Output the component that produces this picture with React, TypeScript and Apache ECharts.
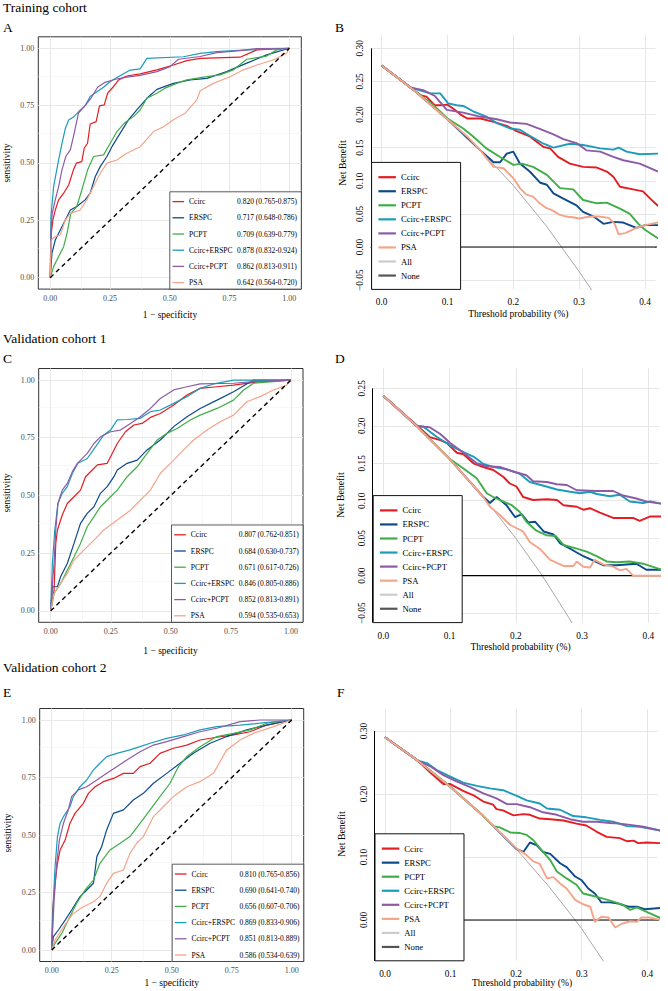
import React, { useEffect, useRef } from 'react';
import * as echarts from 'echarts';

const FONT = "'Liberation Serif', 'Times New Roman', Times, serif";

const MODELS = ['Ccirc', 'ERSPC', 'PCPT', 'Ccirc+ERSPC', 'Ccirc+PCPT', 'PSA'];
const COLORS = ['#E31D22', '#0C4A8C', '#3FAE48', '#1B9CBA', '#8D5BA6', '#F5A489'];

// ---------- ROC data (1 - specificity, sensitivity) ----------
const diagonal = [[0, 0], [1, 1]];
const rocTicks = [0, 0.25, 0.5, 0.75, 1];
const rocMinor = [0.125, 0.375, 0.625, 0.875];

const rocA_Ccirc = [[0,0],[0.004,0.193],[0.011,0.251],[0.021,0.295],[0.035,0.339],[0.056,0.368],[0.077,0.404],[0.097,0.47],[0.109,0.499],[0.132,0.506],[0.142,0.564],[0.156,0.586],[0.167,0.67],[0.192,0.68],[0.206,0.749],[0.226,0.753],[0.24,0.804],[0.262,0.83],[0.286,0.862],[0.32,0.879],[0.376,0.888],[0.446,0.906],[0.515,0.927],[0.571,0.946],[0.627,0.956],[0.794,0.961],[0.864,0.993],[1,1]];
const rocA_ERSPC = [[0,0],[0.007,0.106],[0.021,0.164],[0.042,0.208],[0.063,0.251],[0.084,0.295],[0.111,0.31],[0.146,0.339],[0.167,0.368],[0.188,0.44],[0.209,0.484],[0.237,0.528],[0.258,0.571],[0.292,0.629],[0.327,0.688],[0.362,0.731],[0.404,0.782],[0.446,0.821],[0.515,0.847],[0.585,0.862],[0.655,0.869],[0.738,0.898],[0.822,0.935],[0.905,0.971],[1,1]];
const rocA_PCPT = [[0,0],[0.014,0.048],[0.035,0.092],[0.056,0.135],[0.07,0.193],[0.086,0.28],[0.111,0.31],[0.132,0.382],[0.156,0.469],[0.181,0.528],[0.223,0.535],[0.251,0.586],[0.279,0.637],[0.309,0.673],[0.348,0.702],[0.376,0.731],[0.404,0.782],[0.446,0.804],[0.48,0.826],[0.529,0.847],[0.571,0.862],[0.655,0.876],[0.71,0.884],[0.766,0.906],[0.822,0.952],[0.905,0.966],[0.947,0.993],[1,1]];
const rocA_CcircERSPC = [[0,0],[0.003,0.266],[0.014,0.397],[0.035,0.513],[0.049,0.585],[0.063,0.65],[0.077,0.687],[0.097,0.7],[0.125,0.73],[0.146,0.75],[0.167,0.79],[0.195,0.81],[0.223,0.83],[0.251,0.855],[0.292,0.88],[0.334,0.905],[0.376,0.91],[0.404,0.956],[0.557,0.963],[0.627,0.978],[0.696,0.985],[0.766,0.99],[1,1]];
const rocA_CcircPCPT = [[0,0],[0.003,0.193],[0.008,0.28],[0.021,0.339],[0.035,0.397],[0.049,0.47],[0.065,0.528],[0.084,0.557],[0.1,0.629],[0.118,0.717],[0.142,0.746],[0.17,0.782],[0.198,0.83],[0.226,0.85],[0.272,0.865],[0.32,0.874],[0.376,0.882],[0.446,0.898],[0.501,0.92],[0.536,0.952],[0.627,0.964],[0.696,0.981],[0.794,0.99],[0.864,0.999],[1,1]];
const rocA_PSA = [[0,0],[0.004,0.164],[0.021,0.179],[0.042,0.186],[0.063,0.251],[0.084,0.28],[0.125,0.295],[0.153,0.339],[0.181,0.397],[0.209,0.455],[0.237,0.499],[0.279,0.513],[0.32,0.542],[0.376,0.571],[0.432,0.637],[0.474,0.658],[0.515,0.688],[0.564,0.717],[0.613,0.775],[0.627,0.815],[0.682,0.847],[0.752,0.876],[0.808,0.906],[0.864,0.927],[0.933,0.949],[0.989,0.978],[1,1]];

const rocC_Ccirc = [[0,0],[0.014,0.09],[0.021,0.292],[0.028,0.35],[0.048,0.415],[0.069,0.465],[0.097,0.494],[0.124,0.523],[0.145,0.581],[0.173,0.61],[0.194,0.632],[0.235,0.639],[0.256,0.682],[0.277,0.725],[0.311,0.776],[0.346,0.805],[0.38,0.812],[0.415,0.838],[0.456,0.855],[0.512,0.892],[0.567,0.935],[0.622,0.964],[0.692,0.971],[0.761,0.978],[0.871,0.993],[1,1]];
const rocC_ERSPC = [[0,0],[0.007,0.104],[0.028,0.104],[0.041,0.147],[0.069,0.205],[0.097,0.292],[0.124,0.379],[0.152,0.422],[0.18,0.451],[0.207,0.509],[0.235,0.538],[0.263,0.581],[0.277,0.61],[0.318,0.639],[0.36,0.653],[0.401,0.697],[0.456,0.74],[0.512,0.798],[0.567,0.841],[0.622,0.877],[0.692,0.913],[0.761,0.949],[0.844,1],[1,1]];
const rocC_PCPT = [[0,0],[0.014,0.075],[0.041,0.118],[0.069,0.176],[0.097,0.234],[0.124,0.292],[0.152,0.364],[0.18,0.408],[0.207,0.451],[0.249,0.494],[0.277,0.523],[0.318,0.581],[0.36,0.624],[0.401,0.682],[0.443,0.74],[0.484,0.769],[0.526,0.79],[0.581,0.827],[0.622,0.848],[0.692,0.877],[0.761,0.913],[0.803,0.957],[0.844,0.986],[0.927,0.993],[1,1]];
const rocC_CcircERSPC = [[0,0],[0.007,0.205],[0.017,0.35],[0.03,0.465],[0.048,0.509],[0.069,0.538],[0.09,0.595],[0.113,0.639],[0.152,0.66],[0.187,0.711],[0.221,0.762],[0.249,0.783],[0.277,0.827],[0.318,0.829],[0.373,0.834],[0.415,0.863],[0.456,0.87],[0.512,0.899],[0.567,0.928],[0.622,0.964],[0.678,0.983],[0.761,1],[1,1]];
const rocC_CcircPCPT = [[0,0],[0.007,0.118],[0.014,0.205],[0.021,0.35],[0.03,0.465],[0.048,0.523],[0.069,0.552],[0.09,0.603],[0.111,0.639],[0.152,0.682],[0.18,0.725],[0.207,0.754],[0.249,0.776],[0.29,0.783],[0.332,0.812],[0.373,0.841],[0.415,0.877],[0.456,0.92],[0.512,0.957],[0.567,0.971],[0.622,0.983],[0.761,0.986],[0.844,0.993],[1,1]];
const rocC_PSA = [[0,0],[0.014,0.075],[0.041,0.118],[0.069,0.162],[0.097,0.22],[0.138,0.263],[0.18,0.306],[0.221,0.35],[0.277,0.393],[0.332,0.436],[0.373,0.48],[0.415,0.523],[0.456,0.595],[0.512,0.653],[0.553,0.697],[0.595,0.74],[0.65,0.783],[0.705,0.819],[0.761,0.848],[0.816,0.906],[0.871,0.928],[0.927,0.957],[0.982,0.978],[1,1]];

const rocE_Ccirc = [[0,0],[0.004,0.174],[0.014,0.29],[0.024,0.377],[0.035,0.435],[0.056,0.478],[0.076,0.551],[0.097,0.594],[0.132,0.638],[0.153,0.681],[0.181,0.71],[0.215,0.732],[0.257,0.746],[0.299,0.768],[0.34,0.768],[0.368,0.797],[0.41,0.812],[0.451,0.855],[0.507,0.877],[0.563,0.891],[0.618,0.913],[0.688,0.925],[0.757,0.935],[0.826,0.949],[0.896,0.978],[1,1]];
const rocE_ERSPC = [[0,0],[0.007,0.058],[0.028,0.087],[0.056,0.13],[0.083,0.174],[0.118,0.232],[0.146,0.261],[0.174,0.29],[0.188,0.406],[0.208,0.449],[0.229,0.522],[0.257,0.594],[0.299,0.609],[0.34,0.652],[0.382,0.681],[0.424,0.725],[0.479,0.768],[0.535,0.812],[0.59,0.855],[0.66,0.899],[0.729,0.928],[0.813,0.957],[0.896,0.978],[1,1]];
const rocE_PCPT = [[0,0],[0.014,0.029],[0.042,0.072],[0.069,0.13],[0.104,0.203],[0.139,0.261],[0.174,0.304],[0.201,0.377],[0.243,0.435],[0.285,0.464],[0.326,0.493],[0.368,0.551],[0.41,0.609],[0.451,0.667],[0.493,0.725],[0.528,0.797],[0.563,0.841],[0.618,0.884],[0.688,0.928],[0.757,0.942],[0.826,0.957],[0.896,0.986],[1,1]];
const rocE_CcircERSPC = [[0,0],[0.007,0.217],[0.014,0.362],[0.024,0.493],[0.035,0.551],[0.049,0.58],[0.076,0.623],[0.09,0.667],[0.118,0.71],[0.146,0.739],[0.174,0.783],[0.201,0.812],[0.229,0.841],[0.271,0.855],[0.326,0.87],[0.368,0.884],[0.41,0.899],[0.479,0.92],[0.549,0.935],[0.618,0.957],[0.688,0.971],[0.785,0.978],[0.868,0.986],[1,1]];
const rocE_CcircPCPT = [[0,0],[0.01,0.217],[0.021,0.377],[0.032,0.478],[0.049,0.551],[0.069,0.609],[0.083,0.667],[0.111,0.696],[0.146,0.71],[0.188,0.739],[0.229,0.768],[0.271,0.797],[0.313,0.826],[0.368,0.862],[0.424,0.891],[0.479,0.906],[0.549,0.928],[0.618,0.949],[0.688,0.964],[0.785,0.993],[0.868,1],[1,1]];
const rocE_PSA = [[0,0],[0.014,0.043],[0.049,0.101],[0.09,0.159],[0.132,0.188],[0.174,0.21],[0.201,0.232],[0.229,0.29],[0.257,0.333],[0.299,0.348],[0.326,0.42],[0.354,0.464],[0.382,0.493],[0.424,0.58],[0.465,0.623],[0.507,0.667],[0.563,0.71],[0.618,0.732],[0.674,0.768],[0.729,0.87],[0.785,0.913],[0.84,0.942],[0.924,0.971],[1,1]];

const aucA = ['0.820 (0.765-0.875)', '0.717 (0.648-0.786)', '0.709 (0.639-0.779)', '0.878 (0.832-0.924)', '0.862 (0.813-0.911)', '0.642 (0.564-0.720)'];
const aucC = ['0.807 (0.762-0.851)', '0.684 (0.630-0.737)', '0.671 (0.617-0.726)', '0.846 (0.805-0.886)', '0.852 (0.813-0.891)', '0.594 (0.535-0.653)'];
const aucE = ['0.810 (0.765-0.856)', '0.690 (0.641-0.740)', '0.656 (0.607-0.706)', '0.869 (0.833-0.906)', '0.851 (0.813-0.889)', '0.586 (0.534-0.639)'];

// ---------- Decision curve data (threshold, net benefit) ----------
const dcaXTicks = [0, 0.1, 0.2, 0.3, 0.4];
const dcaYTicksB = [-0.05, 0, 0.05, 0.1, 0.15, 0.2, 0.25, 0.3];
const dcaYTicksD = [-0.05, 0, 0.05, 0.1, 0.15, 0.2, 0.25];
const dcaYTicksF = [0, 0.1, 0.2, 0.3];
const noneLine = [[0, 0], [0.42, 0]];

const dcaB_All = [[0,0.274],[0.05,0.236],[0.1,0.193],[0.15,0.146],[0.2,0.093],[0.25,0.032],[0.3,-0.037],[0.33,-0.081]];
const dcaB_Ccirc = [[0,0.274],[0.04,0.244],[0.05,0.236],[0.06,0.229],[0.068,0.227],[0.081,0.214],[0.09,0.214],[0.1,0.215],[0.11,0.208],[0.12,0.2],[0.13,0.194],[0.15,0.194],[0.17,0.189],[0.19,0.183],[0.205,0.175],[0.225,0.167],[0.246,0.151],[0.256,0.149],[0.268,0.136],[0.286,0.126],[0.306,0.121],[0.327,0.12],[0.342,0.114],[0.352,0.106],[0.362,0.091],[0.382,0.087],[0.397,0.084],[0.408,0.073],[0.42,0.062]];
const dcaB_ERSPC = [[0,0.274],[0.05,0.236],[0.1,0.193],[0.15,0.146],[0.17,0.128],[0.18,0.128],[0.19,0.141],[0.2,0.144],[0.21,0.126],[0.225,0.114],[0.241,0.097],[0.251,0.094],[0.261,0.081],[0.276,0.073],[0.296,0.063],[0.306,0.053],[0.322,0.046],[0.337,0.035],[0.352,0.038],[0.367,0.037],[0.387,0.029],[0.4,0.033],[0.42,0.033]];
const dcaB_PCPT = [[0,0.274],[0.05,0.236],[0.078,0.215],[0.1,0.194],[0.124,0.179],[0.139,0.167],[0.159,0.149],[0.18,0.136],[0.2,0.124],[0.213,0.126],[0.23,0.121],[0.251,0.109],[0.271,0.089],[0.291,0.087],[0.306,0.071],[0.327,0.066],[0.342,0.067],[0.362,0.058],[0.377,0.05],[0.39,0.035],[0.4,0.026],[0.42,0.013]];
const dcaB_CcircERSPC = [[0,0.274],[0.04,0.244],[0.043,0.241],[0.063,0.235],[0.075,0.232],[0.089,0.232],[0.101,0.217],[0.114,0.214],[0.124,0.213],[0.139,0.205],[0.159,0.197],[0.175,0.187],[0.195,0.179],[0.21,0.177],[0.225,0.168],[0.246,0.156],[0.261,0.15],[0.286,0.156],[0.306,0.154],[0.332,0.149],[0.352,0.147],[0.36,0.15],[0.372,0.144],[0.392,0.14],[0.42,0.141]];
const dcaB_CcircPCPT = [[0,0.274],[0.04,0.244],[0.043,0.241],[0.063,0.237],[0.081,0.228],[0.099,0.207],[0.124,0.203],[0.149,0.197],[0.175,0.193],[0.195,0.188],[0.22,0.186],[0.241,0.178],[0.261,0.17],[0.276,0.163],[0.296,0.157],[0.311,0.146],[0.332,0.144],[0.352,0.136],[0.367,0.131],[0.392,0.126],[0.42,0.114]];
const dcaB_PSA = [[0,0.274],[0.05,0.236],[0.1,0.193],[0.13,0.167],[0.15,0.146],[0.17,0.121],[0.185,0.119],[0.2,0.104],[0.21,0.089],[0.22,0.079],[0.23,0.076],[0.24,0.066],[0.25,0.059],[0.26,0.055],[0.27,0.049],[0.28,0.046],[0.29,0.045],[0.3,0.043],[0.31,0.045],[0.32,0.046],[0.33,0.046],[0.345,0.044],[0.354,0.035],[0.36,0.019],[0.37,0.021],[0.387,0.029],[0.4,0.033],[0.42,0.037]];

const dcaD_All = [[0,0.24],[0.05,0.2],[0.1,0.156],[0.15,0.106],[0.2,0.05],[0.24,0],[0.28,-0.056],[0.295,-0.078]];
const dcaD_Ccirc = [[0,0.24],[0.05,0.201],[0.07,0.185],[0.086,0.181],[0.096,0.177],[0.111,0.164],[0.121,0.162],[0.136,0.15],[0.151,0.145],[0.166,0.141],[0.181,0.132],[0.191,0.123],[0.201,0.119],[0.211,0.105],[0.226,0.101],[0.247,0.102],[0.262,0.101],[0.272,0.094],[0.292,0.092],[0.302,0.088],[0.312,0.09],[0.327,0.084],[0.347,0.077],[0.362,0.077],[0.377,0.077],[0.387,0.073],[0.403,0.079],[0.42,0.079]];
const dcaD_ERSPC = [[0,0.24],[0.05,0.2],[0.1,0.156],[0.15,0.106],[0.161,0.097],[0.171,0.105],[0.186,0.094],[0.199,0.078],[0.209,0.082],[0.219,0.071],[0.229,0.072],[0.242,0.059],[0.257,0.055],[0.267,0.043],[0.282,0.036],[0.302,0.026],[0.317,0.02],[0.332,0.014],[0.352,0.014],[0.367,0.015],[0.382,0.016],[0.397,0.008],[0.42,0.008]];
const dcaD_PCPT = [[0,0.24],[0.05,0.2],[0.1,0.156],[0.121,0.143],[0.141,0.13],[0.156,0.11],[0.166,0.105],[0.181,0.099],[0.194,0.094],[0.206,0.085],[0.216,0.072],[0.231,0.06],[0.246,0.054],[0.26,0.053],[0.272,0.041],[0.292,0.036],[0.307,0.032],[0.322,0.026],[0.337,0.019],[0.352,0.018],[0.372,0.019],[0.392,0.016],[0.42,0.008]];
const dcaD_CcircERSPC = [[0,0.24],[0.05,0.2],[0.06,0.199],[0.081,0.185],[0.101,0.174],[0.121,0.165],[0.136,0.159],[0.151,0.149],[0.166,0.145],[0.186,0.142],[0.206,0.136],[0.221,0.125],[0.242,0.12],[0.262,0.115],[0.282,0.112],[0.297,0.11],[0.312,0.112],[0.322,0.109],[0.342,0.106],[0.357,0.108],[0.372,0.099],[0.392,0.097],[0.403,0.099],[0.42,0.096]];
const dcaD_CcircPCPT = [[0,0.24],[0.05,0.2],[0.055,0.199],[0.07,0.198],[0.086,0.189],[0.101,0.177],[0.121,0.164],[0.141,0.15],[0.156,0.146],[0.176,0.145],[0.196,0.139],[0.216,0.134],[0.226,0.126],[0.247,0.125],[0.262,0.122],[0.277,0.121],[0.292,0.114],[0.322,0.113],[0.347,0.113],[0.362,0.107],[0.382,0.103],[0.397,0.099],[0.42,0.096]];
const dcaD_PSA = [[0,0.24],[0.05,0.2],[0.1,0.156],[0.15,0.106],[0.161,0.092],[0.176,0.081],[0.191,0.068],[0.211,0.059],[0.221,0.045],[0.236,0.036],[0.252,0.021],[0.272,0.013],[0.287,0.013],[0.292,0.019],[0.302,0.012],[0.312,0.011],[0.319,0.021],[0.332,0.015],[0.347,0.012],[0.357,0.007],[0.367,0.009],[0.377,0],[0.42,0]];

const dcaF_All = [[0,0.29],[0.05,0.253],[0.1,0.211],[0.15,0.165],[0.2,0.113],[0.25,0.053],[0.29,0],[0.3,-0.014],[0.34,-0.076]];
const dcaF_Ccirc = [[0,0.29],[0.05,0.253],[0.069,0.234],[0.089,0.216],[0.099,0.216],[0.119,0.205],[0.135,0.198],[0.15,0.188],[0.165,0.183],[0.17,0.176],[0.18,0.174],[0.196,0.166],[0.211,0.168],[0.221,0.167],[0.236,0.161],[0.252,0.16],[0.272,0.158],[0.292,0.153],[0.307,0.15],[0.323,0.14],[0.338,0.132],[0.358,0.13],[0.369,0.125],[0.379,0.126],[0.386,0.122],[0.399,0.123],[0.42,0.122]];
const dcaF_ERSPC = [[0,0.29],[0.05,0.253],[0.1,0.211],[0.15,0.165],[0.2,0.113],[0.211,0.108],[0.221,0.123],[0.231,0.119],[0.241,0.108],[0.252,0.105],[0.267,0.09],[0.277,0.084],[0.29,0.069],[0.3,0.063],[0.31,0.05],[0.32,0.042],[0.33,0.028],[0.343,0.028],[0.356,0.026],[0.371,0.021],[0.384,0.021],[0.396,0.017],[0.42,0.019]];
const dcaF_PCPT = [[0,0.29],[0.05,0.253],[0.1,0.211],[0.15,0.165],[0.165,0.149],[0.175,0.147],[0.191,0.139],[0.206,0.138],[0.216,0.135],[0.226,0.127],[0.241,0.108],[0.252,0.095],[0.262,0.077],[0.277,0.066],[0.292,0.056],[0.302,0.042],[0.318,0.038],[0.333,0.034],[0.348,0.029],[0.363,0.024],[0.374,0.016],[0.384,0.02],[0.399,0.013],[0.42,0.003]];
const dcaF_CcircERSPC = [[0,0.29],[0.05,0.253],[0.064,0.249],[0.079,0.238],[0.099,0.228],[0.119,0.218],[0.14,0.213],[0.16,0.209],[0.18,0.206],[0.201,0.197],[0.216,0.19],[0.236,0.185],[0.247,0.177],[0.267,0.175],[0.287,0.165],[0.307,0.163],[0.328,0.159],[0.348,0.156],[0.369,0.149],[0.389,0.148],[0.42,0.142]];
const dcaF_CcircPCPT = [[0,0.29],[0.05,0.253],[0.069,0.244],[0.089,0.23],[0.109,0.22],[0.13,0.211],[0.15,0.201],[0.17,0.193],[0.186,0.184],[0.201,0.184],[0.221,0.179],[0.241,0.171],[0.262,0.167],[0.282,0.16],[0.302,0.156],[0.323,0.156],[0.343,0.154],[0.358,0.153],[0.374,0.151],[0.394,0.148],[0.42,0.142]];
const dcaF_PSA = [[0,0.29],[0.05,0.253],[0.1,0.211],[0.15,0.165],[0.2,0.114],[0.216,0.103],[0.226,0.093],[0.236,0.089],[0.247,0.066],[0.257,0.068],[0.267,0.058],[0.277,0.05],[0.29,0.032],[0.302,0.025],[0.313,0.021],[0.32,-0.003],[0.33,0.005],[0.341,0.004],[0.351,-0.012],[0.361,-0.006],[0.374,-0.002],[0.384,-0.003],[0.391,0.004],[0.404,0.004],[0.42,0]];

// ---------- layout ----------
const GRIDS = [
  { left: 38.3, top: 36.8, width: 263, height: 252.3 },   // A
  { left: 371.1, top: 35.1, width: 284.4, height: 254.3 }, // B
  { left: 38.7, top: 368.5, width: 264.3, height: 253.8 }, // C
  { left: 372.7, top: 368.4, width: 286.2, height: 254.2 },// D
  { left: 39.7, top: 708.5, width: 264, height: 253 },     // E
  { left: 374.5, top: 709.1, width: 283.3, height: 251.7 },// F
];

const rocPanels = [
  { grid: 0, curves: [rocA_Ccirc, rocA_ERSPC, rocA_PCPT, rocA_CcircERSPC, rocA_CcircPCPT, rocA_PSA], auc: aucA },
  { grid: 2, curves: [rocC_Ccirc, rocC_ERSPC, rocC_PCPT, rocC_CcircERSPC, rocC_CcircPCPT, rocC_PSA], auc: aucC },
  { grid: 4, curves: [rocE_Ccirc, rocE_ERSPC, rocE_PCPT, rocE_CcircERSPC, rocE_CcircPCPT, rocE_PSA], auc: aucE },
];
const dcaPanels = [
  { grid: 1, all: dcaB_All, curves: [dcaB_Ccirc, dcaB_ERSPC, dcaB_PCPT, dcaB_CcircERSPC, dcaB_CcircPCPT, dcaB_PSA], yMin: -0.064, yMax: 0.32, yTicks: dcaYTicksB },
  { grid: 3, all: dcaD_All, curves: [dcaD_Ccirc, dcaD_ERSPC, dcaD_PCPT, dcaD_CcircERSPC, dcaD_CcircPCPT, dcaD_PSA], yMin: -0.0626, yMax: 0.2766, yTicks: dcaYTicksD },
  { grid: 5, all: dcaF_All, curves: [dcaF_Ccirc, dcaF_ERSPC, dcaF_PCPT, dcaF_CcircERSPC, dcaF_CcircPCPT, dcaF_PSA], yMin: -0.0648, yMax: 0.3348, yTicks: dcaYTicksF },
];

const DCA_XMIN = -0.016;
const DCA_XMAX = 0.416;

function fmtNeg(v: number, d: number) {
  return (v < 0 ? '\u2212' : '') + Math.abs(v).toFixed(d);
}

function buildOption() {
  const grid: any[] = [];
  const xAxis: any[] = [];
  const yAxis: any[] = [];
  const series: any[] = [];
  const legend: any[] = [];

  GRIDS.forEach((g) => grid.push({ ...g, show: false, containLabel: false, outerBoundsMode: 'none' }));

  // ROC panels
  rocPanels.forEach((p) => {
    const gi = p.grid;
    const g = GRIDS[gi];
    grid[gi] = { ...grid[gi], show: true, borderColor: '#333333', borderWidth: 1, backgroundColor: 'transparent' };
    const axisCommon = {
      gridIndex: gi, type: 'value', min: -0.05, max: 1.05,
      axisLine: { show: false },
      axisTick: { show: true, customValues: rocTicks, length: 2.7, lineStyle: { color: '#333333', width: 0.8 } },
      splitLine: { show: false },
    };
    xAxis[gi] = { ...axisCommon, axisLabel: { customValues: rocTicks, formatter: (v: number) => v.toFixed(2), color: '#4D4D4D', fontSize: 8, fontFamily: FONT, margin: 5 } };
    yAxis[gi] = { ...axisCommon, axisLabel: { customValues: rocTicks, formatter: (v: number) => v.toFixed(2), color: '#4D4D4D', fontSize: 8, fontFamily: FONT, margin: 4 } };

    series.push({
      type: 'line', xAxisIndex: gi, yAxisIndex: gi, data: [[0.5, 0.5]], symbol: 'none', silent: true, clip: false,
      lineStyle: { opacity: 0 }, z: 1,
      markLine: {
        silent: true, symbol: ['none', 'none'], label: { show: false }, z: 1, animation: false,
        emphasis: { disabled: true },
        lineStyle: { color: '#E8E8E8', width: 1, type: 'solid' },
        data: [
          ...rocMinor.map((v) => ({ xAxis: v, lineStyle: { color: '#F2F2F2', width: 0.6, type: 'solid' } })),
          ...rocMinor.map((v) => ({ yAxis: v, lineStyle: { color: '#F2F2F2', width: 0.6, type: 'solid' } })),
          ...rocTicks.map((v) => ({ xAxis: v })),
          ...rocTicks.map((v) => ({ yAxis: v })),
        ],
      },
    });

    p.curves.forEach((d, i) => {
      series.push({
        type: 'line', name: MODELS[i], xAxisIndex: gi, yAxisIndex: gi, data: d,
        symbol: 'none', showSymbol: false, silent: true, z: 3,
        lineStyle: { color: COLORS[i], width: 1.2 }, itemStyle: { color: COLORS[i] },
        emphasis: { disabled: true },
      });
    });
    series.push({
      type: 'line', xAxisIndex: gi, yAxisIndex: gi, data: diagonal, symbol: 'none', silent: true, z: 4,
      lineStyle: { color: '#000000', width: 1.4, type: [4.5, 3.5] },
    });

    const auc = p.auc;
    legend.push({
      orient: 'vertical',
      left: g.left + g.width - 131.5,
      top: g.top + g.height - 97.3,
      padding: [4.8, 3.5, 1.5, 2.7],
      itemWidth: 11.6, itemHeight: 1.3, itemGap: 6.2,
      icon: 'rect', selectedMode: false,
      backgroundColor: '#FFFFFF', borderColor: '#333333', borderWidth: 0.8, borderRadius: 0,
      data: MODELS,
      formatter: (name: string) => `{n|${name}}{v|${auc[MODELS.indexOf(name)]}}`,
      textStyle: {
        fontFamily: FONT, fontSize: 7.5, color: '#000', lineHeight: 10,
        rich: {
          n: { width: 48, fontFamily: FONT, fontSize: 7.5, color: '#000', lineHeight: 10 },
          v: { width: 60.7, fontFamily: FONT, fontSize: 7.5, color: '#000', lineHeight: 10 },
        },
      },
    });
  });

  // Decision curve panels
  dcaPanels.forEach((p) => {
    const gi = p.grid;
    const g = GRIDS[gi];
    xAxis[gi] = {
      gridIndex: gi, type: 'value', min: DCA_XMIN, max: DCA_XMAX,
      axisLine: { show: true, lineStyle: { color: '#000', width: 1 } },
      axisTick: { show: true, customValues: dcaXTicks, length: 5, lineStyle: { color: '#000', width: 1 } },
      axisLabel: { customValues: dcaXTicks, formatter: (v: number) => v.toFixed(1), color: '#000', fontSize: 9.3, fontFamily: FONT, margin: 8.5 },
      splitLine: { show: false },
    };
    yAxis[gi] = {
      gridIndex: gi, type: 'value', min: p.yMin, max: p.yMax,
      axisLine: { show: false },
      axisTick: { show: true, customValues: p.yTicks, length: 5, lineStyle: { color: '#000', width: 1 } },
      axisLabel: { customValues: p.yTicks, rotate: 90, formatter: (v: number) => fmtNeg(v, 2), color: '#000', fontSize: 9.3, fontFamily: FONT, margin: 6.5 },
      splitLine: { show: false },
    };
    const top = p.yTicks[p.yTicks.length - 1];
    series.push({
      type: 'line', xAxisIndex: gi, yAxisIndex: gi, data: [[0.2, 0]], symbol: 'none', silent: true, clip: false,
      lineStyle: { opacity: 0 }, z: 1,
      markLine: {
        silent: true, symbol: ['none', 'none'], label: { show: false }, z: 1, animation: false,
        emphasis: { disabled: true },
        lineStyle: { color: '#E6E6E6', width: 1, type: 'solid' },
        data: [
          ...dcaXTicks.map((v) => ({ xAxis: v })),
          ...p.yTicks.map((v) => ({ yAxis: v })),
        ],
      },
    });
    series.push({
      type: 'line', xAxisIndex: gi, yAxisIndex: gi, data: [[0.2, 0]], symbol: 'none', silent: true, clip: false,
      lineStyle: { opacity: 0 }, z: 3,
      markLine: {
        silent: true, symbol: ['none', 'none'], label: { show: false }, z: 3, animation: false,
        emphasis: { disabled: true },
        lineStyle: { color: '#000', width: 1, type: 'solid' },
        data: [[{ coord: [DCA_XMIN, top] }, { coord: [DCA_XMIN, p.yMin] }]],
      },
    });
    series.push({
      type: 'line', name: 'All', xAxisIndex: gi, yAxisIndex: gi, data: p.all, symbol: 'none', silent: true, z: 2,
      lineStyle: { color: '#A8A8A8', width: 1 }, itemStyle: { color: '#A8A8A8' }, emphasis: { disabled: true },
    });
    series.push({
      type: 'line', name: 'None', xAxisIndex: gi, yAxisIndex: gi, data: noneLine, symbol: 'none', silent: true, z: 2,
      lineStyle: { color: '#000', width: 1.2 }, itemStyle: { color: '#000' }, emphasis: { disabled: true },
    });
    p.curves.forEach((d, i) => {
      series.push({
        type: 'line', name: MODELS[i], xAxisIndex: gi, yAxisIndex: gi, data: d,
        symbol: 'none', showSymbol: false, silent: true, z: 3,
        lineStyle: { color: COLORS[i], width: 1.9 }, itemStyle: { color: COLORS[i] },
        emphasis: { disabled: true },
      });
    });

    legend.push({
      orient: 'vertical',
      left: g.left + 0.5,
      top: g.top + g.height - 127,
      padding: [9.8, 8.7, 8.85, 6.8],
      itemWidth: 17.5, itemHeight: 2.2, itemGap: 4.05,
      icon: 'rect', selectedMode: false,
      backgroundColor: '#FFFFFF', borderColor: '#111111', borderWidth: 1, borderRadius: 0,
      data: [
        ...MODELS,
        { name: 'All', itemStyle: { color: '#CCCCCC' } },
        { name: 'None', itemStyle: { color: '#555555' } },
      ],
      textStyle: { fontFamily: FONT, fontSize: 8.7, color: '#000', lineHeight: 10, width: 51 },
    });
  });

  const txt = (text: string, x: number, y: number, size: number, opts: any = {}) => ({
    type: 'text', x, y, silent: true, rotation: opts.rotation || 0,
    style: { text, fontSize: size, fontFamily: FONT, fill: '#000', align: opts.align || 'left', verticalAlign: 'middle' },
  });
  const R = Math.PI / 2;

  const graphic = [
    txt('Training cohort', 3, 7.6, 13.5),
    txt('A', 3, 27.7, 13.5),
    txt('B', 335, 27.7, 13.5),
    txt('Validation cohort 1', 3, 338.7, 13.5),
    txt('C', 3, 358.1, 13.5),
    txt('D', 335, 358.7, 13.5),
    txt('Validation cohort 2', 3, 667.1, 13.5),
    txt('E', 3, 692.1, 13.5),
    txt('F', 337, 692.1, 13.5),
    txt('sensitivity', 7, 163, 9.5, { rotation: R, align: 'center' }),
    txt('sensitivity', 7, 493, 9.5, { rotation: R, align: 'center' }),
    txt('sensitivity', 7.5, 833, 9.5, { rotation: R, align: 'center' }),
    txt('1 \u2212 specificity', 170, 315, 9.5, { align: 'center' }),
    txt('1 \u2212 specificity', 170.5, 651, 9.5, { align: 'center' }),
    txt('1 \u2212 specificity', 171.7, 982.7, 9.5, { align: 'center' }),
    txt('Net Benefit', 342.7, 163, 9.8, { rotation: R, align: 'center' }),
    txt('Net Benefit', 340.5, 495, 9.8, { rotation: R, align: 'center' }),
    txt('Net Benefit', 341.5, 834, 9.8, { rotation: R, align: 'center' }),
    txt('Threshold probability (%)', 518.3, 313.3, 9.6, { align: 'center' }),
    txt('Threshold probability (%)', 520.5, 646, 9.6, { align: 'center' }),
    txt('Threshold probability (%)', 522, 982.7, 9.6, { align: 'center' }),
  ];

  return {
    animation: false,
    backgroundColor: '#FFFFFF',
    textStyle: { fontFamily: FONT },
    tooltip: { show: false },
    grid, xAxis, yAxis, series, legend, graphic,
  };
}

export default function App() {
  const ref = useRef<HTMLDivElement>(null);
  useEffect(() => {
    if (!ref.current) return;
    const chart = echarts.init(ref.current, null, { renderer: 'svg' });
    chart.setOption(buildOption() as any);
    return () => chart.dispose();
  }, []);
  return (
    <div
      ref={ref}
      style={{ position: 'absolute', left: 0, top: 0, width: 668, height: 991, background: '#fff' }}
    />
  );
}
